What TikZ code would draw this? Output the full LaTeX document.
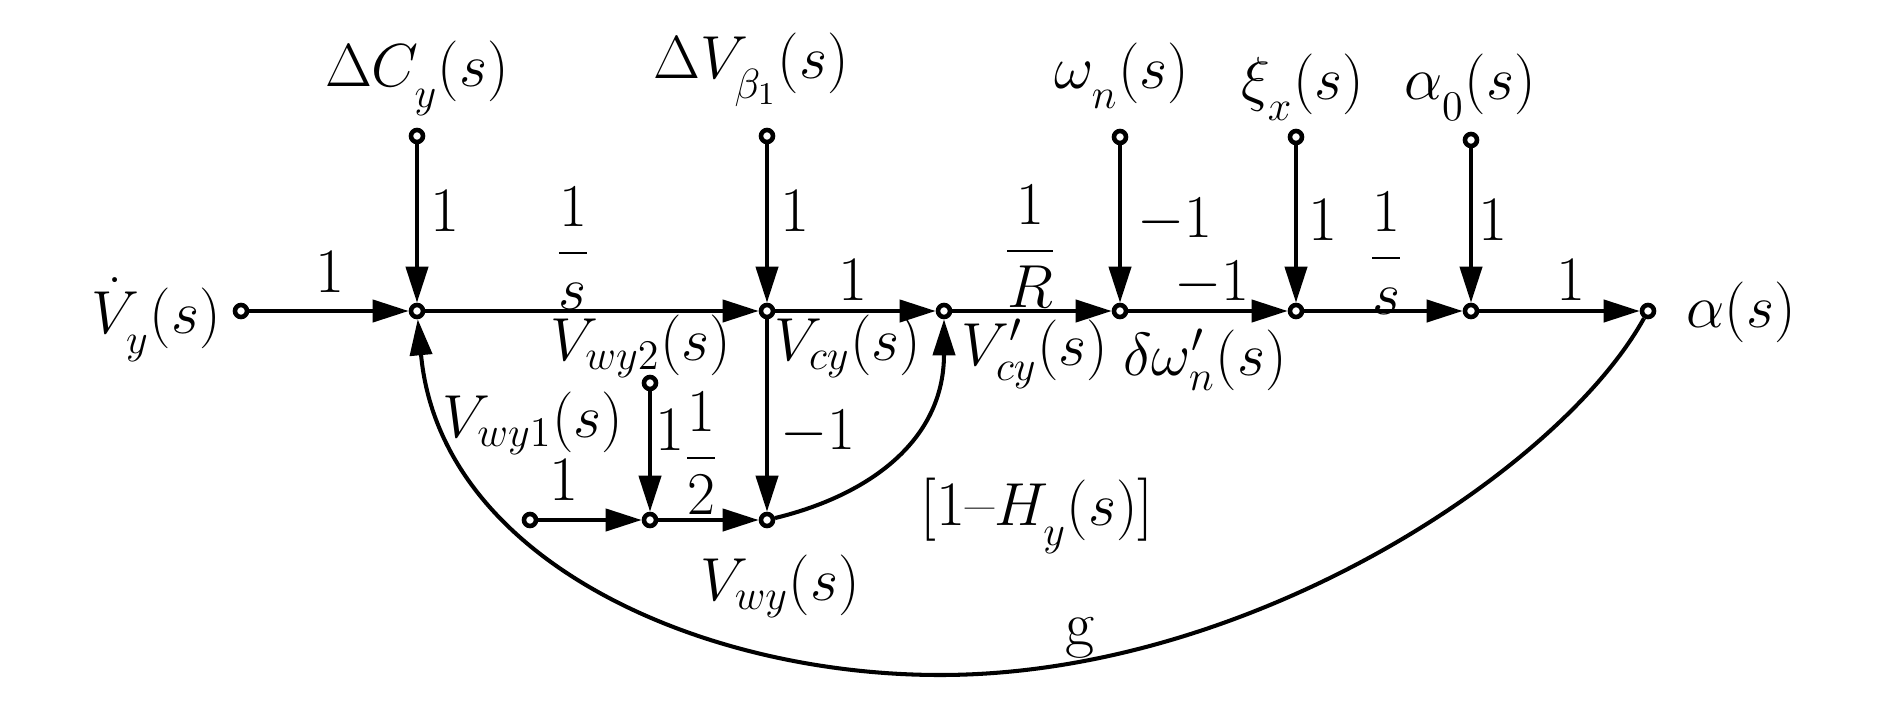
\documentclass[tikz,border=0pt]{standalone}
\usepackage{amsmath}
\usetikzlibrary{arrows.meta}
\newcommand\dn[1]{_{\raisebox{-0.4ex}{$\scriptstyle #1$}}}
\begin{document}
\begin{tikzpicture}[x=0.01cm,y=-0.01cm,
  every node/.style={font=\fontsize{18}{21}\selectfont},
  pt/.style={circle,draw,line width=1.3pt,fill=white,inner sep=0pt,minimum size=0.12cm},
  sfarrow/.style={line width=1.15pt,-{Triangle[length=0.36cm,width=0.22cm]}},
  lbl/.style={anchor=base,inner sep=0pt},
  gain/.style={inner sep=0pt}]
\useasboundingbox (0,0) rectangle (1890,709);
% main row
\node[pt] (vin) at (241,311) {};
\node[pt] (a) at (417,311) {};
\node[pt] (b) at (767,311) {};
\node[pt] (c) at (944,311) {};
\node[pt] (d) at (1120,311) {};
\node[pt] (e) at (1296,311) {};
\node[pt] (f) at (1471,311) {};
\node[pt] (g) at (1648,311) {};
% top inputs
\node[pt] (dc) at (417,136) {};
\node[pt] (dv) at (767,136) {};
\node[pt] (wn) at (1120,137) {};
\node[pt] (xi) at (1296,137) {};
\node[pt] (a0) at (1471,140) {};
% lower part
\node[pt] (w2) at (650,383) {};
\node[pt] (l1) at (530,520) {};
\node[pt] (l2) at (650,520) {};
\node[pt] (l3) at (767,520) {};
\coordinate (gb) at (940,675);
% edges
\draw[sfarrow] (vin) -- (a);
\draw[sfarrow] (dc) -- (a);
\draw[sfarrow] (a) -- (b);
\draw[sfarrow] (dv) -- (b);
\draw[sfarrow] (b) -- (c);
\draw[sfarrow] (c) -- (d);
\draw[sfarrow] (wn) -- (d);
\draw[sfarrow] (d) -- (e);
\draw[sfarrow] (xi) -- (e);
\draw[sfarrow] (e) -- (f);
\draw[sfarrow] (a0) -- (f);
\draw[sfarrow] (f) -- (g);
\draw[sfarrow] (b) -- (l3);
\draw[sfarrow] (w2) -- (l2);
\draw[sfarrow] (l1) -- (l2);
\draw[sfarrow] (l2) -- (l3);
\draw[sfarrow] (l3) .. controls (870,495) and (944,440) .. (c);
\draw[sfarrow] (g) .. controls (1560,470) and (1250,675) .. (gb) .. controls (700,675) and (440,560) .. (a);
% node labels
\node[lbl] (Lvin) at (156,333) {$\dot{V}\dn{y}(s)$};
\node[lbl] (Ldc) at (417,87) {$\Delta C\dn{y}(s)$};
\node[lbl] (Ldv) at (751,78) {$\Delta V\dn{\beta_1}(s)$};
\node[lbl] (Lwn) at (1122,88) {$\omega\dn{n}(s)$};
\node[lbl] (Lxi) at (1303,100) {$\xi\dn{x}(s)$};
\node[lbl] (La0) at (1470,100) {$\alpha\dn{0}(s)$};
\node[lbl] (Lal) at (1741,327) {$\alpha(s)$};
\node[lbl] (Lw2) at (641,360) {$V_{wy2}(s)$};
\node[lbl] (Lcy) at (848,360) {$V_{cy}(s)$};
\node[lbl] (Lcyp) at (1035,365) {$V'_{cy}(s)$};
\node[lbl] (Ldw) at (1205,375) {$\delta\omega'_n(s)$};
\node[lbl] (Lw1) at (533,437) {$V_{wy1}(s)$};
\node[lbl] (Lwy) at (780,600) {$V_{wy}(s)$};
\node[lbl] (Lh) at (1037,525) {[1--$H\dn{y}(s)$]};
\node[lbl] (Lg) at (1080,645) {g};
% gains
\node[gain] (k1) at (330,272) {1};
\node[gain] (k2) at (445,211) {1};
\node[lbl] (k3) at (573,268) {$\dfrac{1}{s}$};
\node[gain] (k4) at (795,211) {1};
\node[gain] (k5) at (853,280) {1};
\node[lbl] (k6) at (1030,266) {$\dfrac{1}{R}$};
\node[gain] (k7) at (1175,220) {$-1$};
\node[gain] (k8) at (1212,283) {$-1$};
\node[gain] (k9) at (1323,220) {1};
\node[lbl] (k10) at (1386,273) {$\dfrac{1}{s}$};
\node[gain] (k11) at (1493,220) {1};
\node[gain] (k12) at (1571,280) {1};
\node[gain] (k13) at (564,480) {1};
\node[gain] (k14) at (670,430) {1};
\node[lbl] (k15) at (701,473) {$\dfrac{1}{2}$};
\node[gain] (k16) at (818,432) {$-1$};
\end{tikzpicture}
\end{document}
